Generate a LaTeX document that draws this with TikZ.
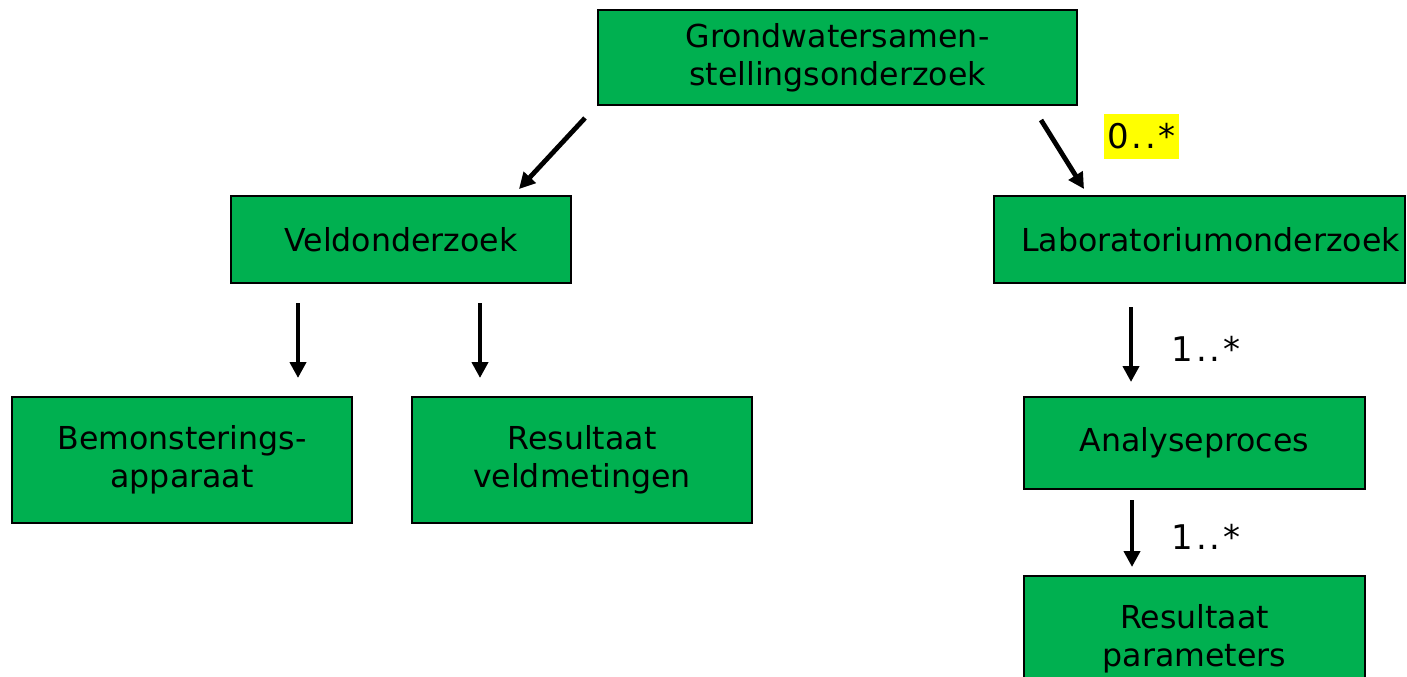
\documentclass[tikz,border=0pt]{standalone}
\usepackage{fontspec}
\setmainfont{DejaVu Sans}
\usetikzlibrary{arrows.meta}
\definecolor{boxgreen}{HTML}{00B050}
\definecolor{tagyellow}{HTML}{FFFF00}

\begin{document}
\begin{tikzpicture}[x=0.5pt,y=-0.5pt,
    box/.style={draw=black,fill=boxgreen,line width=0.75pt,align=center,
      inner sep=0pt,font=\fontsize{15.8}{19}\selectfont},
    link/.style={line width=2.4pt,-{Triangle[length=8pt,width=8pt]}},
    mult/.style={font=\fontsize{17}{20}\selectfont,inner sep=0pt}]

  \def\wide{170pt}
  \def\low{43.5pt}
  \def\high{63pt}
  \def\dd{\kern1.3pt.\kern1.3pt.\kern1.3pt}

  \clip (0,0) rectangle (1407,676);

  % top level
  \path node (gwo) at (837.5,57.5) [box,minimum width=239.5pt,minimum height=47.5pt]
        {Grondwatersamen-\\stellingsonderzoek};

  % second level
  \path node (veld) at (401,239.5) [box,minimum width=\wide,minimum height=\low]
        {Veldonderzoek};
  \path node (lab) at (1199.5,239.5) [box,minimum width=205.5pt,minimum height=\low]
        {\hspace*{11pt}Laboratoriumonderzoek};

  % field branch
  \path node (bemon) at (182,460) [box,minimum width=\wide,minimum height=\high]
        {Bemonsterings-\\apparaat};
  \path node (resveld) at (582,460) [box,minimum width=\wide,minimum height=\high]
        {Resultaat\\veldmetingen};

  % lab branch
  \path node (analyse) at (1194.5,443) [box,minimum width=170.5pt,minimum height=46pt]
        {Analyseproces};
  \path node (respar) at (1194.5,639) [box,minimum width=170.5pt,minimum height=\high]
        {Resultaat\\parameters};

  % arrow ends
  \coordinate (a1s) at (585,118);  \coordinate (a1e) at (519,189);
  \coordinate (a2s) at (1041,120); \coordinate (a2e) at (1084,189);
  \coordinate (a3s) at (298,303);  \coordinate (a3e) at (298,378);
  \coordinate (a4s) at (480,303);  \coordinate (a4e) at (480,378);
  \coordinate (a5s) at (1131,307); \coordinate (a5e) at (1131,382);
  \coordinate (a6s) at (1132,500); \coordinate (a6e) at (1132,567);

  \draw[link] (a1s) -- (a1e);
  \draw[link] (a2s) -- (a2e);
  \draw[link] (a3s) -- (a3e);
  \draw[link] (a4s) -- (a4e);
  \draw[link] (a5s) -- (a5e);
  \draw[link] (a6s) -- (a6e);

  % multiplicities
  \path node (m1) at (1141.5,136.5) [mult,fill=tagyellow,minimum width=37.5pt,minimum height=22.5pt]
        {0\dd*};
  \path node (m2) at (1206,349) [mult] {1\dd*};
  \path node (m3) at (1206,537) [mult] {1\dd*};
\end{tikzpicture}
\end{document}
